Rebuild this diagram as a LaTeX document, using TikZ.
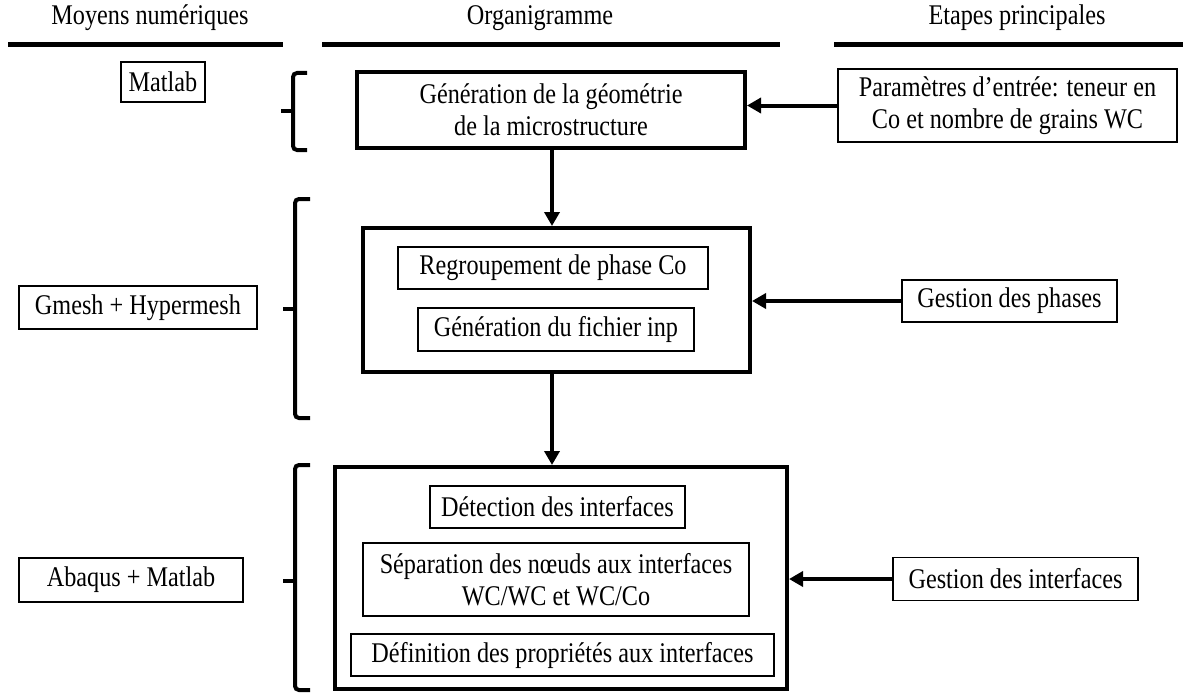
\documentclass[tikz,border=0pt]{standalone}
\usepackage{fontspec}
\setmainfont{Liberation Serif}[FakeStretch=0.85]
\usetikzlibrary{arrows.meta,calc}
\newcommand\diagfont{\fontsize{28.5}{32}\selectfont}
\begin{document}
\begin{tikzpicture}[x=1pt,y=-1pt,
  tbox/.style={draw, line width=1.2pt, inner sep=0pt, align=center, font=\diagfont},
  bbox/.style={draw, line width=4pt, inner sep=0pt, align=center, font=\diagfont},
  hdr/.style={inner sep=0pt, font=\diagfont},
  hline/.style={line width=5pt},
  arr/.style={line width=4pt, -{Triangle[length=14pt,width=15pt]}},
  brace/.style={line width=4pt, rounded corners=4pt, line cap=butt}]
\useasboundingbox (0,0) rectangle (1183,693);
% headers
\node[hdr] (h1) at (150,18) {Moyens numériques};
\node[hdr] (h2) at (540,18) {Organigramme};
\node[hdr] (h3) at (1017,18) {Etapes principales};
\draw[hline] (8,45) -- (283,45);
\draw[hline] (322,45) -- (780,45);
\draw[hline] (834,45) -- (1183,45);
% left column
\node[tbox, minimum width=84pt, minimum height=40pt] (matlab) at (163,82) {Matlab};
\node[tbox, minimum width=238pt, minimum height=43pt] (gmesh) at (138,307.5) {Gmesh + Hypermesh};
\node[tbox, minimum width=224pt, minimum height=44pt] (abaqus) at (131,580) {Abaqus + Matlab};
% braces
\draw[brace] (307,73) -- (293,73) -- (293,150) -- (307,150);
\draw[line width=4pt] (281,111) -- (294,111);
\draw[brace] (310,199) -- (295,199) -- (295,418) -- (310,418);
\draw[line width=4pt] (283,309) -- (296,309);
\draw[brace] (310,465) -- (295,465) -- (295,690) -- (310,690);
\draw[line width=4pt] (283,581) -- (296,581);
% middle column
\node[bbox, minimum width=388pt, minimum height=76pt] (box1) at (551,110) {Génération de la géométrie\\de la microstructure};
\node[bbox, minimum width=387pt, minimum height=144pt] (box2) at (556.5,300) {};
\node[tbox, minimum width=310pt, minimum height=42pt] (regroup) at (553,268) {Regroupement de phase Co};
\node[tbox, minimum width=276pt, minimum height=43pt] (genfich) at (556,329.5) {Génération du fichier inp};
\node[bbox, minimum width=452pt, minimum height=222pt] (box3) at (561,578) {};
\node[tbox, minimum width=255pt, minimum height=42pt] (detect) at (557.5,507) {Détection des interfaces};
\node[tbox, minimum width=386pt, minimum height=73pt] (separ) at (556,579.5) {Séparation des nœuds aux interfaces\\WC/WC et WC/Co};
\node[tbox, minimum width=423pt, minimum height=42pt] (defin) at (562.5,655) {Définition des propriétés aux interfaces};
% right column
\node[tbox, minimum width=339pt, minimum height=73pt] (param) at (1007.5,105.5) {Paramètres d’entrée: teneur en\\Co et nombre de grains WC};
\node[tbox, minimum width=215pt, minimum height=42pt] (phases) at (1009.5,301) {Gestion des phases};
\node[tbox, minimum width=245pt, minimum height=43pt] (interf) at (1015.5,579) {Gestion des interfaces};
% connectors
\draw[arr] (param.west) -- (param.west -| box1.east);
\draw[arr] (box1.south -| 552,0) -- (box2.north -| 552,0);
\draw[arr] (phases.west) -- (phases.west -| box2.east);
\draw[arr] (box2.south -| 552,0) -- (box3.north -| 552,0);
\draw[arr] (interf.west) -- (interf.west -| box3.east);
\end{tikzpicture}
\end{document}
